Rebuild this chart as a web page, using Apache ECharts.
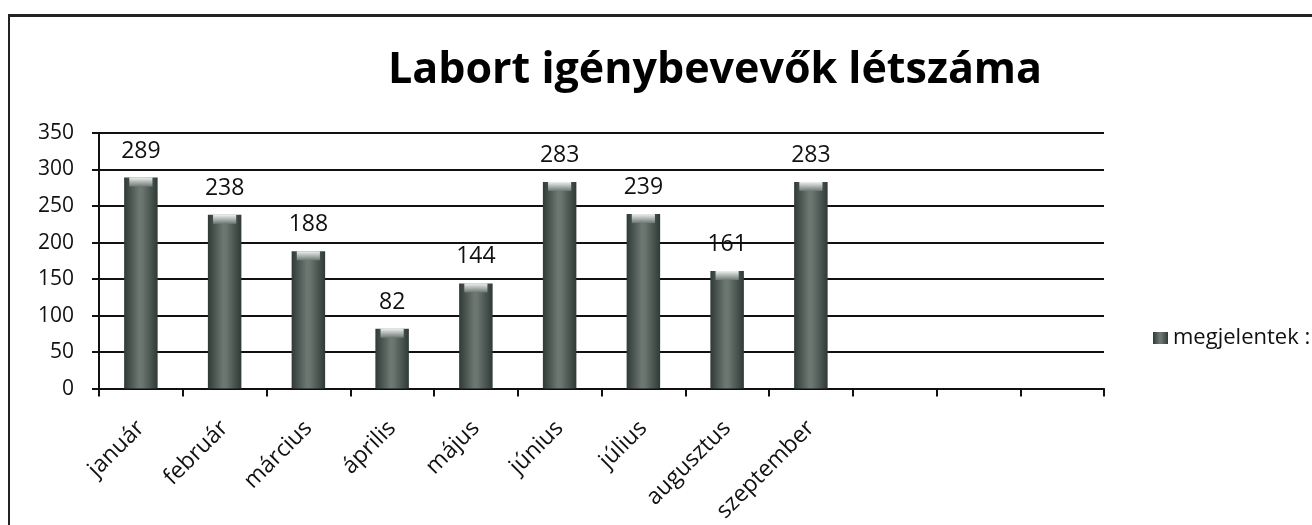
<!DOCTYPE html>
<html><head><meta charset="utf-8">
<script src="https://cdn.jsdelivr.net/npm/echarts@6/dist/echarts.min.js"></script>
<style>
html,body{margin:0;padding:0;background:#fff;}
#c{width:1312px;height:525px;position:relative;}
#frame{position:absolute;left:8px;top:14px;width:1304px;height:511px;border-top:3px solid #222;border-left:2px solid #222;box-sizing:border-box;pointer-events:none;}
</style></head>
<body>
<div id="c"></div>
<div id="frame"></div>
<script>
const titleText = 'Labort igénybevevők létszáma';
const seriesName = 'megjelentek :';
const categories = ['január','február','március','április','május','június','július','augusztus','szeptember','','',''];
const values = [289,238,188,82,144,283,239,161,283,null,null,null];
const yTicks = {min:0,max:350,interval:50};

const chart = echarts.init(document.getElementById('c'));
const font = '"Open Sans", "Noto Sans", sans-serif';
chart.setOption({
  animation:false,
  backgroundColor:'#fff',
  title:{text:titleText,left:710,textAlign:'center',top:44,
    textStyle:{fontFamily:font,fontWeight:'bold',fontSize:43,color:'#000'}},
  legend:{data:[{name:seriesName,icon:'rect'}],left:1148,top:322,itemWidth:15,itemHeight:12,itemGap:9,
    textStyle:{fontFamily:font,fontSize:22,color:'#111'}},
  grid:{left:99,right:208,top:133,bottom:132,containLabel:false},
  xAxis:{type:'category',data:categories,
    axisLine:{lineStyle:{color:'#111',width:2}},
    axisTick:{show:true,length:8,lineStyle:{color:'#111',width:2},alignWithLabel:false},
    axisLabel:{rotate:45,interval:0,fontFamily:font,fontSize:23,color:'#111',margin:36}},
  yAxis:{type:'value',min:yTicks.min,max:yTicks.max,interval:yTicks.interval,
    axisLine:{show:true,lineStyle:{color:'#111',width:2}},
    axisTick:{show:true,length:7,lineStyle:{color:'#111',width:2}},
    axisLabel:{fontFamily:font,fontSize:21,color:'#111',margin:25},
    splitLine:{lineStyle:{color:'#111',width:2}}},
  series:[{name:seriesName,type:'bar',data:values,barWidth:'40%',
    itemStyle:{color:new echarts.graphic.LinearGradient(0,0,1,0,[
      {offset:0,color:'#2f3a36'},{offset:0.45,color:'#6d7873'},{offset:0.55,color:'#6a7570'},{offset:1,color:'#2f3a36'}])},
    label:{show:true,position:'top',distance:15,fontFamily:font,fontSize:23,color:'#111'}},
    {name:'cap',type:'pictorialBar',data:values,symbol:'rect',symbolSize:['40%',9],symbolPosition:'end',
     symbolOffset:[0,0],silent:true,z:3,
     itemStyle:{color:new echarts.graphic.LinearGradient(0,0,0,1,[
      {offset:0,color:'#eef1ef'},{offset:1,color:'#6d7873'}])}}]
});
</script>
</body></html>
